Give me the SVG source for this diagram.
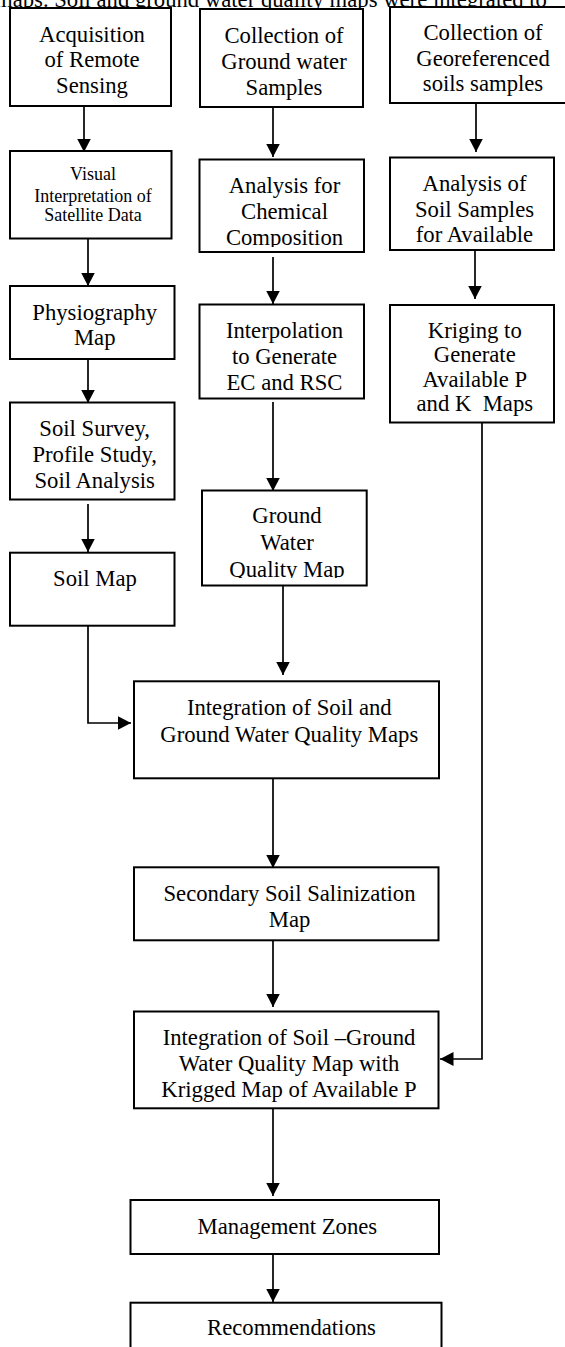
<svg xmlns="http://www.w3.org/2000/svg" width="565" height="1347" viewBox="0 0 565 1347">
<style>
.box{fill:#fff;stroke:#000;stroke-width:2}
.t{font-family:"Liberation Serif","Times New Roman",serif;font-size:22.7px;fill:#000;text-anchor:middle}
.s{font-family:"Liberation Serif","Times New Roman",serif;font-size:18px;fill:#000;text-anchor:middle}
.c{fill:none;stroke:#000;stroke-width:1.7}
</style>
<defs>
<marker id="ah" markerUnits="userSpaceOnUse" markerWidth="14" markerHeight="14" viewBox="0 0 14 14" refX="13.5" refY="7" orient="auto">
<path d="M0,0 L13.5,7 L0,14 Z" fill="#000"/>
</marker>
<clipPath id="cpB2"><rect x="199" y="159" width="165" height="88"/></clipPath>
<clipPath id="cpGWQ"><rect x="202" y="490" width="165" height="88"/></clipPath>
</defs>
<text x="-5" y="7" style="font-family:'Liberation Serif','Times New Roman',serif;font-size:22.7px">maps. Soil and ground water quality maps were integrated to</text>
<g id="connectors">
<path class="c" d="M84,106 V152" marker-end="url(#ah)"/>
<path class="c" d="M273,108 V157" marker-end="url(#ah)"/>
<path class="c" d="M476,104 V152" marker-end="url(#ah)"/>
<path class="c" d="M88,239 V286" marker-end="url(#ah)"/>
<path class="c" d="M88,359 V403" marker-end="url(#ah)"/>
<path class="c" d="M88,504 V552" marker-end="url(#ah)"/>
<path class="c" d="M88,626 V723 H131" marker-end="url(#ah)"/>
<path class="c" d="M273,257 V304" marker-end="url(#ah)"/>
<path class="c" d="M273,402 V491" marker-end="url(#ah)"/>
<path class="c" d="M283,585 V675" marker-end="url(#ah)"/>
<path class="c" d="M475,251 V299" marker-end="url(#ah)"/>
<path class="c" d="M482,419 V1059 H440" marker-end="url(#ah)"/>
<path class="c" d="M273,773 V868" marker-end="url(#ah)"/>
<path class="c" d="M273,941 V1007" marker-end="url(#ah)"/>
<path class="c" d="M273,1103 V1196" marker-end="url(#ah)"/>
<path class="c" d="M273,1254 V1302" marker-end="url(#ah)"/>
</g>
<g id="n1"><rect class="box" x="10" y="8" width="161" height="98"/>
<text class="t" x="92" y="41.5">Acquisition</text><text class="t" x="92" y="67">of Remote</text><text class="t" x="92" y="93">Sensing</text></g>
<g id="n2"><rect class="box" x="200" y="9" width="163" height="98"/>
<text class="t" x="284" y="42.5">Collection of</text><text class="t" x="284" y="68.5">Ground water</text><text class="t" x="284" y="94.5">Samples</text></g>
<g id="n3"><rect class="box" x="390" y="7" width="186" height="96"/>
<text class="t" x="483" y="40">Collection of</text><text class="t" x="483" y="65.5">Georeferenced</text><text class="t" x="483" y="90.5">soils samples</text></g>
<g id="n4"><rect class="box" x="10" y="151" width="161.5" height="87.5"/>
<text class="s" x="93" y="180">Visual</text><text class="s" x="93" y="201.5">Interpretation of</text><text class="s" x="93" y="221">Satellite Data</text></g>
<g id="n5"><rect class="box" x="199.5" y="159.5" width="164.5" height="92.5"/>
<g clip-path="url(#cpB2)"><text class="t" x="284.5" y="193">Analysis for</text><text class="t" x="284.5" y="219">Chemical</text><text class="t" x="284.5" y="245">Composition</text></g></g>
<g id="n6"><rect class="box" x="390" y="157.5" width="164" height="92.5"/>
<text class="t" x="474.5" y="190.5">Analysis of</text><text class="t" x="474.5" y="216.5">Soil Samples</text><text class="t" x="474.5" y="241.5">for Available</text></g>
<g id="n7"><rect class="box" x="10" y="286" width="164.5" height="73"/>
<text class="t" x="94.7" y="320">Physiography</text><text class="t" x="94.7" y="345">Map</text></g>
<g id="n8"><rect class="box" x="199.5" y="304.5" width="164.5" height="94"/>
<text class="t" x="284.5" y="338">Interpolation</text><text class="t" x="284.5" y="364">to Generate</text><text class="t" x="284.5" y="389.5">EC and RSC</text></g>
<g id="n9"><rect class="box" x="390" y="305" width="164" height="117.5"/>
<text class="t" x="474.8" y="338.3">Kriging to</text><text class="t" x="474.8" y="362">Generate</text><text class="t" x="474.8" y="386.5">Available P</text><text class="t" x="474.8" y="410.7" xml:space="preserve">and K  Maps</text></g>
<g id="n10"><rect class="box" x="10" y="402.5" width="164.5" height="97"/>
<text class="t" x="94.7" y="436">Soil Survey,</text><text class="t" x="94.7" y="462">Profile Study,</text><text class="t" x="94.7" y="487.5">Soil Analysis</text></g>
<g id="n11"><rect class="box" x="202" y="490.5" width="164.7" height="95"/>
<g clip-path="url(#cpGWQ)"><text class="t" x="287" y="523.3">Ground</text><text class="t" x="287" y="550">Water</text><text class="t" x="287" y="576.7">Quality Map</text></g></g>
<g id="n12"><rect class="box" x="10" y="552.7" width="164.5" height="73"/>
<text class="t" x="95" y="586">Soil Map</text></g>
<g id="n13"><rect class="box" x="134" y="681.3" width="305" height="97"/>
<text class="t" x="289.3" y="715">Integration of Soil and</text><text class="t" x="289.3" y="741.7">Ground Water Quality Maps</text></g>
<g id="n14"><rect class="box" x="134" y="867.3" width="304.5" height="73"/>
<text class="t" x="289.5" y="900.5">Secondary Soil Salinization</text><text class="t" x="289.5" y="927">Map</text></g>
<g id="n15"><rect class="box" x="134" y="1011.5" width="304.5" height="96.8"/>
<text class="t" x="289" y="1044.5">Integration of Soil –Ground</text><text class="t" x="289" y="1071">Water Quality Map with</text><text class="t" x="289" y="1097">Krigged Map of Available P</text></g>
<g id="n16"><rect class="box" x="130.5" y="1200" width="308.5" height="54"/>
<text class="t" x="287.4" y="1234">Management Zones</text></g>
<g id="n17"><rect class="box" x="130.5" y="1302.7" width="311" height="60"/>
<text class="t" x="291.5" y="1335">Recommendations</text></g>
</svg>
